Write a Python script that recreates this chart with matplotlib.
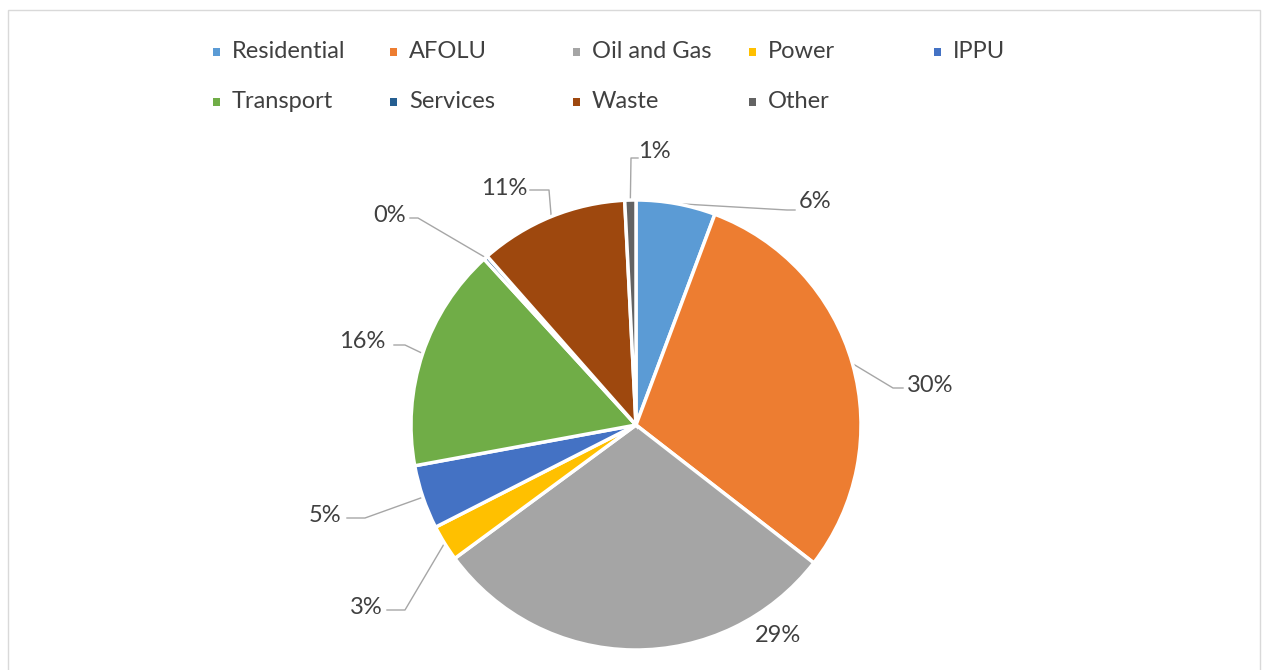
import matplotlib
matplotlib.use('Agg')
import matplotlib.pyplot as plt
import numpy as np
from matplotlib.patches import Rectangle

# ---- data ----
categories = ['Residential', 'AFOLU', 'Oil and Gas', 'Power', 'IPPU',
              'Transport', 'Services', 'Waste', 'Other']
shares = [5.7, 29.8, 29.4, 2.6, 4.6, 16.1, 0.3, 10.7, 0.8]
colors = ['#5B9BD5', '#ED7D31', '#A5A5A5', '#FFC000', '#4472C4',
          '#70AD47', '#255E91', '#9E480E', '#636363']

# ---- layout (pixels) ----
W, H = 1267, 670
CX, CY, R = 636, 425, 225
TEXT = '#404040'
LEAD = '#A6A6A6'

# label text centres and leader-line path (elbow, end) in pixels
label_xy = [(815, 202), (930, 385), (778, 636), (366, 608), (325, 515),
            (362, 342), (390, 215), (504, 188), (654, 152)]
leader = [((787, 210), (795, 210)),
          ((893, 388), (903, 388)),
          None,
          ((405, 610), (387, 610)),
          ((365, 518), (347, 518)),
          ((405, 345), (394, 345)),
          ((418, 218), (410, 218)),
          ((549, 190), (530, 190)),
          ((631, 158), (638, 158))]

legend_col_x = [216, 393, 576, 752, 937]
legend_row_y = [52, 102]

plt.rcParams['font.family'] = ['Lato', 'DejaVu Sans']
fig = plt.figure(figsize=(W / 100, H / 100), dpi=100)
fig.patch.set_facecolor('white')


def fx(px):
    return px / W


def fy(py):
    return 1 - py / H


# border
fig.add_artist(Rectangle((fx(8), -0.01), fx(1260) - fx(8), fy(10) + 0.01,
                         transform=fig.transFigure, fill=False,
                         edgecolor='#D9D9D9', linewidth=1))

ax = fig.add_axes([(CX - R) / W, (H - CY - R) / H, 2 * R / W, 2 * R / H])
wedges, _ = ax.pie(shares, colors=colors, startangle=90, counterclock=False,
                   radius=1, wedgeprops=dict(edgecolor='white', linewidth=2.5))
ax.set_xlim(-1, 1)
ax.set_ylim(-1, 1)
ax.axis('off')


def d(p):
    return ((p[0] - CX) / R, (CY - p[1]) / R)


for w, v, pos, lead in zip(wedges, shares, label_xy, leader):
    txt = f"{round(v)}%"
    ax.text(*d(pos), txt, ha='center', va='center', fontsize=17, color=TEXT)
    if lead is not None:
        ang = np.deg2rad((w.theta1 + w.theta2) / 2)
        start = (np.cos(ang), np.sin(ang))
        e1 = d(lead[0])
        e2 = d(lead[1])
        ax.plot([start[0], e1[0], e2[0]], [start[1], e1[1], e2[1]],
                color=LEAD, lw=1, clip_on=False, zorder=0)

# legend (manual grid)
for i, (cat, col) in enumerate(zip(categories, colors)):
    r, c = divmod(i, 5)
    x = legend_col_x[c]
    y = legend_row_y[r]
    s = 7
    fig.add_artist(Rectangle((fx(x - s / 2), fy(y + s / 2)), s / W, s / H,
                             transform=fig.transFigure, facecolor=col,
                             edgecolor='none'))
    fig.text(fx(x + 16), fy(y), cat, ha='left', va='center', fontsize=17,
             color=TEXT)

fig.savefig('out.png', dpi=100, facecolor='white')
